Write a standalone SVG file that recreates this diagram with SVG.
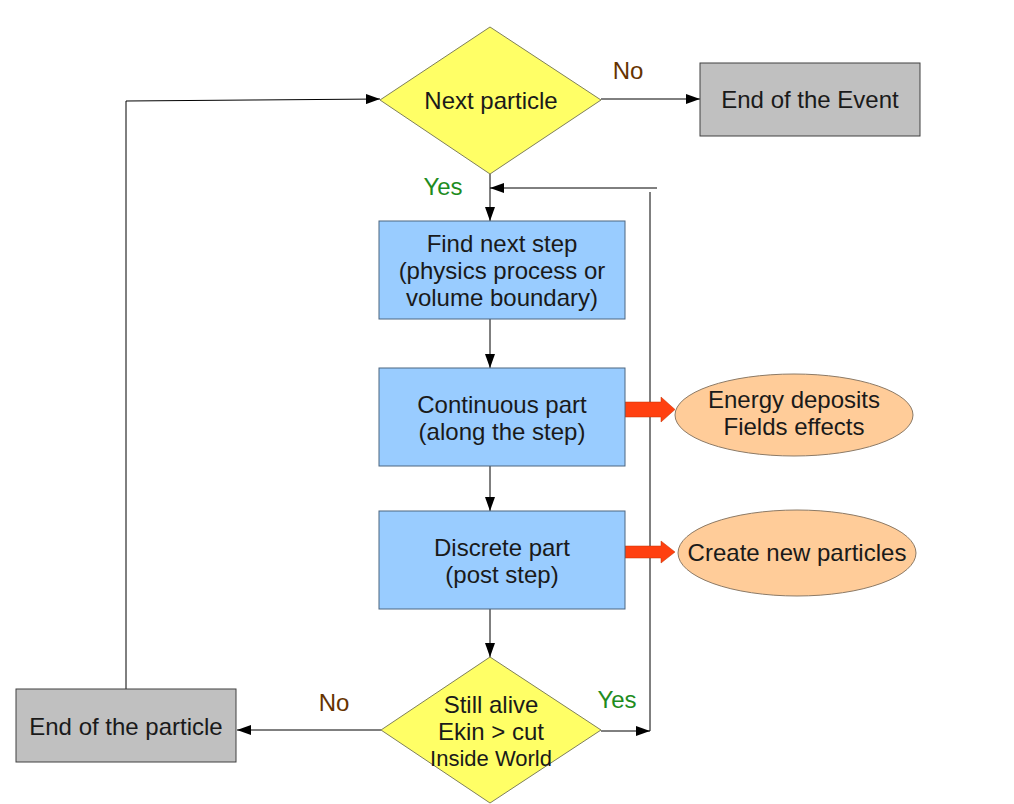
<svg xmlns="http://www.w3.org/2000/svg" width="1014" height="804" viewBox="0 0 1014 804">
<style>
text{font-family:"Liberation Sans",Arial,sans-serif;font-size:24px;fill:#1a1a1a;text-anchor:middle}
.dia{fill:#ffff66;stroke:#7f7f5a;stroke-width:1}
.gray{fill:#c0c0c0;stroke:#404040;stroke-width:1}
.blue{fill:#99ccff;stroke:#4d6680;stroke-width:1}
.ell{fill:#ffcc99;stroke:#8c7a66;stroke-width:1}
.ln{fill:none;stroke:#000;stroke-width:1}
.red{fill:#ff4010;stroke:#c03000;stroke-width:0.5}
.no{fill:#663300}
.yes{fill:#1e8c1e}
</style>
<defs>
<marker id="ah" viewBox="0 0 14 10" refX="14" refY="5" markerWidth="14" markerHeight="10" markerUnits="userSpaceOnUse" orient="auto">
<path d="M0,0 L14,5 L0,10 Z" fill="#000"/>
</marker>
</defs>
<rect width="1014" height="804" fill="#fff"/>
<g id="connectors">
<polyline class="ln" points="126,689 126,101 380,99" marker-end="url(#ah)"/>
<line class="ln" x1="601" y1="99" x2="700" y2="99" marker-end="url(#ah)"/>
<line class="ln" x1="490" y1="174" x2="490" y2="221" marker-end="url(#ah)"/>
<line class="ln" x1="490" y1="319" x2="490" y2="368" marker-end="url(#ah)"/>
<line class="ln" x1="490" y1="466" x2="490" y2="511" marker-end="url(#ah)"/>
<line class="ln" x1="490" y1="609" x2="490" y2="657" marker-end="url(#ah)"/>
<line class="ln" x1="601" y1="731" x2="650" y2="731" marker-end="url(#ah)"/>
<polyline class="ln" points="650,731 650,192"/>
<line class="ln" x1="657" y1="188" x2="490" y2="188" marker-end="url(#ah)"/>
<line class="ln" x1="381" y1="730" x2="237" y2="730" marker-end="url(#ah)"/>
<path class="red" d="M625,402 L661,402 L661,397 L675,409.5 L661,422 L661,417 L625,417 Z"/>
<path class="red" d="M625,546 L661,546 L661,541 L675,552 L661,563 L661,558 L625,558 Z"/>
<text class="no" x="628" y="79">No</text>
<text class="yes" x="443" y="195">Yes</text>
<text class="no" x="334" y="711">No</text>
<text class="yes" x="617" y="708">Yes</text>
</g>
<g id="next-particle">
<polygon class="dia" points="490,27 601,100 490,174 380,100"/>
<text x="491" y="109">Next particle</text>
</g>
<g id="end-event">
<rect class="gray" x="700" y="63" width="220" height="73"/>
<text x="810" y="108">End of the Event</text>
</g>
<g id="find-next-step">
<rect class="blue" x="379" y="221" width="246" height="98"/>
<text x="502" y="252">Find next step</text>
<text x="502" y="279">(physics process or</text>
<text x="502" y="306">volume boundary)</text>
</g>
<g id="continuous">
<rect class="blue" x="379" y="368" width="246" height="98"/>
<text x="502" y="413">Continuous part</text>
<text x="502" y="440">(along the step)</text>
</g>
<g id="discrete">
<rect class="blue" x="379" y="511" width="246" height="98"/>
<text x="502" y="556">Discrete part</text>
<text x="502" y="583">(post step)</text>
</g>
<g id="energy">
<ellipse class="ell" cx="794" cy="415" rx="119" ry="41"/>
<text x="794" y="408">Energy deposits</text>
<text x="794" y="435">Fields effects</text>
</g>
<g id="create">
<ellipse class="ell" cx="797" cy="553" rx="119" ry="43"/>
<text x="797" y="561">Create new particles</text>
</g>
<g id="still-alive">
<polygon class="dia" points="490,657 601,730 490,803 381,730"/>
<text x="491" y="713">Still alive</text>
<text x="491" y="740">Ekin &gt; cut</text>
<text x="491" y="766" style="font-size:22px">Inside World</text>
</g>
<g id="end-particle">
<rect class="gray" x="16" y="689" width="220" height="73"/>
<text x="126" y="735">End of the particle</text>
</g>
</svg>
